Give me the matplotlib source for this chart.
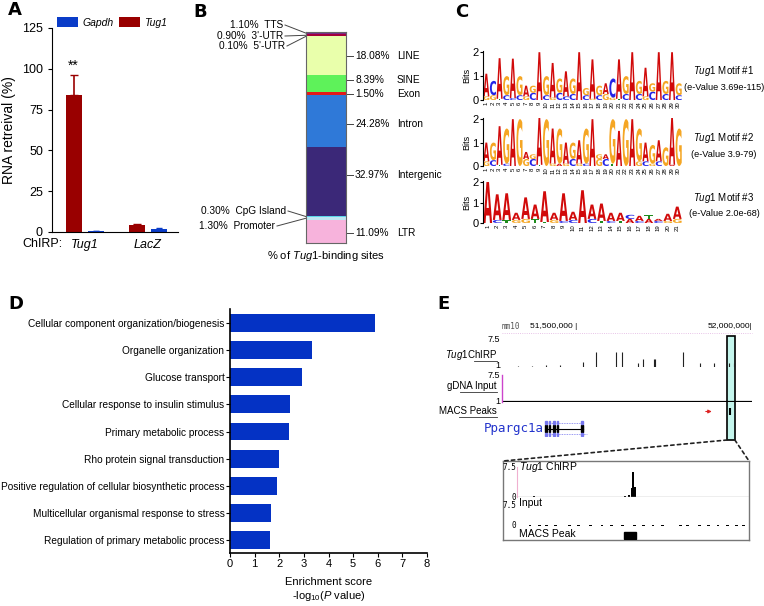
import numpy as np
import matplotlib
matplotlib.use("Agg")
import matplotlib.pyplot as plt
from matplotlib.textpath import TextPath
from matplotlib.patches import PathPatch, Rectangle, ConnectionPatch
from matplotlib.font_manager import FontProperties
from matplotlib import transforms
from matplotlib.lines import Line2D

plt.rcParams['font.family'] = ['Liberation Sans', 'DejaVu Sans']
plt.rcParams['mathtext.fontset'] = 'custom'
plt.rcParams['mathtext.it'] = 'Liberation Sans:italic'
plt.rcParams['mathtext.rm'] = 'Liberation Sans'
narrow = ['Liberation Sans Narrow', 'Liberation Sans', 'DejaVu Sans']
mono = ['DejaVu Sans Mono']

# ---------------- data ----------------
# A: ChIRP RNA retrieval
chirp_probes = ['Tug1', 'LacZ']
tug1_retrieval = [84.0, 4.5]
tug1_err = [12.5, 0.5]
gapdh_retrieval = [0.6, 2.0]
gapdh_err = [0.2, 0.4]

# B: genomic distribution of Tug1 binding sites (top -> bottom)
feature_names = ['TTS', "3'-UTR", "5'-UTR", 'LINE', 'SINE', 'Exon', 'Intron',
                 'Intergenic', 'CpG Island', 'Promoter', 'LTR']
feature_pct = [1.10, 0.90, 0.10, 18.08, 8.39, 1.50, 24.28, 32.97, 0.30, 1.30, 11.09]
feature_colors = ['#7b2a8e', '#a3003c', '#ffe27a', '#e9ffab', '#5ef25a', '#e31a1a',
                  '#2f79d8', '#3b2878', '#5ad6ea', '#bfe6f2', '#f7b3dc']

# C: motifs (top letter / lower letter with heights in bits)
motif1_top = 'ACAGAGAGAGAGAGAGAGACAGAGAGAGAG'
motif1_top_bits = [0.95, 0.6, 1.7, 0.8, 1.65, 0.8, 0.45, 0.3, 2.0, 0.8, 1.45, 0.6, 1.05, 0.65,
                   2.0, 0.3, 1.65, 0.4, 0.45, 0.8, 1.65, 0.75, 2.0, 0.55, 1.2, 0.35, 2.0, 0.55, 2.0, 0.5]
motif1_low = 'GGTCCCGCACGCCCACGCGGTCACGCACAC'
motif1_low_bits = [0.15, 0.2, 0.05, 0.2, 0.08, 0.2, 0.15, 0.3, 0, 0.2, 0.1, 0.3, 0.15, 0.25,
                   0, 0.2, 0.05, 0.2, 0.25, 0.1, 0.05, 0.25, 0, 0.25, 0.15, 0.35, 0, 0.25, 0, 0.2]
motif2_top = 'AGAGAGAGAGAGAGAGAGAGAGAGAGAGAG'
motif2_top_bits = [0.8, 0.75, 1.65, 1.5, 2.0, 2.0, 0.3, 0.2, 2.0, 2.0, 1.5, 1.5, 0.9, 0.7,
                   1.0, 1.5, 2.0, 0.2, 0.2, 1.9, 1.5, 2.0, 2.0, 1.4, 0.8, 0.8, 0.9, 0.8, 2.0, 1.6]
motif2_low = 'GCTCAAGCTAGAGCGCAGCTAAAGCGCAAA'
motif2_low_bits = [0.2, 0.25, 0.05, 0.1, 0, 0, 0.3, 0.3, 0.05, 0, 0.1, 0.1, 0.1, 0.3,
                   0.1, 0.1, 0, 0.3, 0.3, 0.1, 0, 0, 0, 0.2, 0.2, 0.1, 0.2, 0, 0.05, 0]
motif3_top = 'AAAAAAAAAAAAAAACATAAA'
motif3_top_bits = [2.0, 1.25, 1.3, 0.35, 1.05, 0.7, 1.5, 0.35, 1.35, 0.4, 1.6, 0.7, 0.85, 0.4,
                   0.4, 0.2, 0.25, 0.2, 0.1, 0.35, 0.6]
motif3_low = 'ACTGGTTGCCACTCTACACGG'
motif3_low_bits = [0, 0.15, 0.15, 0.15, 0.2, 0.2, 0.05, 0.15, 0.1, 0.15, 0, 0.2, 0.1, 0.1,
                   0.1, 0.2, 0.1, 0.2, 0.1, 0.1, 0.2]
motif_names = ['#1', '#2', '#3']
motif_evalues = ['3.69e-115', '3.9-79', '2.0e-68']

# D: GO enrichment
go_terms = ['Cellular component organization/biogenesis', 'Organelle organization',
            'Glucose transport', 'Cellular response to insulin stimulus',
            'Primary metabolic process', 'Rho protein signal transduction',
            'Positive regulation of cellular biosynthetic process',
            'Multicellular organismal response to stress',
            'Regulation of primary metabolic process']
go_scores = [5.9, 3.32, 2.91, 2.44, 2.39, 1.99, 1.9, 1.65, 1.62]

# E: genome browser (mm10, chr5)
view_start, view_end = 51_285_700, 52_000_000
chirp_pos = [51_330_000, 51_370_000, 51_410_000, 51_450_000, 51_517_000, 51_554_000,
             51_611_000, 51_629_000, 51_674_000, 51_689_000, 51_720_000, 51_723_000,
             51_803_000, 51_851_000, 51_891_000, 51_934_000, 51_949_000]
chirp_val = [1.3, 1.3, 1.4, 1.4, 2.2, 4.4, 4.4, 4.4, 2.0, 2.8, 2.8, 2.8, 4.4, 2.0, 2.0, 2.0, 2.0]
gene_start, gene_end = 51_409_000, 51_517_000
gene_alt_end = 51_529_000
gene_exons = [(51_409_000, 51_414_000), (51_419_000, 51_423_000), (51_430_000, 51_438_000),
              (51_443_000, 51_447_000), (51_512_000, 51_517_000)]
highlight = (51_929_000, 51_951_000)
macs_arrow = (51_860_000, 51_893_000)
macs_mark = 51_936_000

# E inset (position in % of zoomed window)
inset_chirp_pos = [7, 46, 48, 49, 49.5, 50.5]
inset_chirp_val = [0.3, 0.3, 0.5, 2.2, 6.3, 2.4]
inset_input_pos = [5, 9, 12, 16, 22, 26, 31, 36, 40, 45, 50, 54, 58, 62, 70, 73, 78, 82, 86, 90, 94, 97]
inset_input_val = [0.2, 0.3, 0.2, 0.3, 0.2, 0.2, 0.3, 0.2, 0.2, 0.2, 0.3, 0.2, 0.2, 0.2,
                   0.3, 0.2, 0.3, 0.3, 0.2, 0.3, 0.3, 0.2]
inset_peak = (46, 51.5)

# ---------------- figure ----------------
W, H = 764, 606
fig = plt.figure(figsize=(W / 100, H / 100), dpi=100)


def px_axes(x0, y0, x1, y1):
    return fig.add_axes([x0 / W, 1 - y1 / H, (x1 - x0) / W, (y1 - y0) / H])


def ftext(x, y, s, **kw):
    return fig.text(x / W, 1 - y / H, s, **kw)


for lab, (x, y) in zip('ABCDE', [(8, 10), (193, 12), (455, 12), (8, 304), (437, 304)]):
    ftext(x, y, lab, fontsize=13, fontweight='bold', family='DejaVu Sans', va='center')

# ---- A ----
red = '#990000'
blue = '#0a3cc8'
ax = px_axes(52, 28, 178, 232)
xx = np.arange(len(chirp_probes))
ax.bar(xx - 0.18, tug1_retrieval, 0.25, color=red, label='Tug1', zorder=2)
ax.errorbar(xx - 0.18, tug1_retrieval, yerr=[np.zeros(2), tug1_err], fmt='none',
            ecolor=red, elinewidth=1.2, capsize=3, zorder=1)
ax.bar(xx + 0.18, gapdh_retrieval, 0.25, color=blue, label='Gapdh', zorder=2)
ax.errorbar(xx + 0.18, gapdh_retrieval, yerr=[np.zeros(2), gapdh_err], fmt='none',
            ecolor=blue, elinewidth=1.0, capsize=2, zorder=1)
ax.text(xx[0] - 0.18, tug1_retrieval[0] + tug1_err[0] + 1, '**', ha='center', va='bottom', fontsize=10)
ax.set_xlim(-0.524, 1.476)
ax.set_ylim(0, 125)
ax.set_yticks(np.arange(0, 126, 25))
ax.tick_params(axis='y', labelsize=9, length=3)
ax.set_xticks(xx)
ax.set_xticklabels(chirp_probes, style='italic', fontsize=9)
ax.tick_params(axis='x', length=0, pad=5)
for s in ['top', 'right']:
    ax.spines[s].set_visible(False)
ax.set_ylabel('RNA retreival (%)', fontsize=10, labelpad=4)
h, l = ax.get_legend_handles_labels()
ax.legend(h[::-1], l[::-1], loc='upper left', bbox_to_anchor=(0.04, 1.055), ncol=2, frameon=False,
          prop={'style': 'italic', 'size': 7.5}, handlelength=2.0, handleheight=1.2,
          columnspacing=0.6, handletextpad=0.4, borderpad=0, borderaxespad=0)
ftext(22, 244, 'ChIRP:', fontsize=9, va='center')

# ---- B ----
axb = px_axes(306, 32, 346, 243)
cum = np.concatenate([[0], np.cumsum(feature_pct)])
for i, (p, c) in enumerate(zip(feature_pct, feature_colors)):
    axb.bar(0, p, bottom=cum[i], width=1, color=c, linewidth=0)
axb.set_xlim(-0.5, 0.5)
axb.set_ylim(cum[-1], 0)
axb.set_xticks([])
axb.set_yticks([])
for s in axb.spines.values():
    s.set_color('#666666')
    s.set_linewidth(0.8)


def bx(px):
    return (px - 326) / 40.0


def by(py):
    return (py - 32) / 211.0 * cum[-1]


right_labels = {'LINE': 0, 'SINE': -1.8, 'Exon': 0, 'Intron': 1.5, 'Intergenic': -3, 'LTR': 0.8}
for name, nudge in right_labels.items():
    i = feature_names.index(name)
    yc = (cum[i] + cum[i + 1]) / 2 + nudge
    axb.plot([0.5, bx(353)], [yc, yc], color='#444444', lw=0.7, clip_on=False)
    axb.text(bx(355), yc, f'{feature_pct[i]:.2f}%', fontsize=7.3, va='center', family=narrow)
    axb.text(bx(397), yc, name, fontsize=7.3, va='center', family=narrow)

left_labels = {'TTS': 25, "3'-UTR": 36, "5'-UTR": 46, 'CpG Island': 211, 'Promoter': 226}
left_ends = {'TTS': 283, "3'-UTR": 283, "5'-UTR": 285, 'CpG Island': 286, 'Promoter': 275}
for name, ty in left_labels.items():
    i = feature_names.index(name)
    yc = (cum[i] + cum[i + 1]) / 2
    x_end = left_ends[name]
    axb.plot([bx(x_end + 2), -0.5], [by(ty), yc], color='#444444', lw=0.7, clip_on=False)
    axb.text(bx(x_end), by(ty), f'{feature_pct[i]:.2f}%  {name}', fontsize=7.3, va='center',
             ha='right', family=narrow)
ftext(326, 256, r'% of $\mathit{Tug1}$-binding sites', fontsize=8, ha='center', va='center', family=narrow)

# ---- C ----
logo_font = FontProperties(family='DejaVu Sans', weight='bold')
letter_colors = {'A': '#d10a0a', 'C': '#2424e6', 'G': '#f5a623', 'T': '#1e8c1e'}


def draw_letter(ax, ch, x, y, w, hgt):
    if hgt <= 0:
        return
    tp = TextPath((0, 0), ch, size=1, prop=logo_font)
    bb = tp.get_extents()
    tr = (transforms.Affine2D().translate(-bb.x0, -bb.y0)
          .scale(w / bb.width, hgt / bb.height).translate(x - w / 2, y))
    ax.add_patch(PathPatch(tr.transform_path(tp), facecolor=letter_colors[ch], lw=0))


motifs = [(motif1_top, motif1_top_bits, motif1_low, motif1_low_bits),
          (motif2_top, motif2_top_bits, motif2_low, motif2_low_bits),
          (motif3_top, motif3_top_bits, motif3_low, motif3_low_bits)]
logo_rows = [(51, 100), (118, 166), (181, 223)]
for k, ((top, tb, low, lb), (y0, y1)) in enumerate(zip(motifs, logo_rows)):
    axl = px_axes(483, y0, 682, y1)
    n = len(top)
    for i in range(n):
        draw_letter(axl, low[i], i + 1, 0, 0.92, lb[i])
        draw_letter(axl, top[i], i + 1, lb[i], 0.92, tb[i])
    axl.set_xlim(0.5, n + 0.5)
    axl.set_ylim(0, 2.05)
    axl.set_yticks([0, 1, 2])
    axl.tick_params(axis='y', labelsize=8, length=2, pad=1)
    axl.set_xticks(np.arange(1, n + 1))
    axl.set_xticklabels([str(i) for i in range(1, n + 1)], rotation=90, fontsize=4.3)
    axl.tick_params(axis='x', length=0, pad=1)
    for s in ['top', 'right', 'bottom']:
        axl.spines[s].set_visible(False)
    axl.set_ylabel('Bits', fontsize=6.5, labelpad=1)
    ym = (y0 + y1) / 2
    ftext(724, ym - 4, r'$\mathit{Tug1}$ Motif ' + motif_names[k], fontsize=7, ha='center',
          va='center', family=narrow)
    ftext(724, ym + 12, f'(e-Value {motif_evalues[k]})', fontsize=6.6, ha='center', va='center',
          family=narrow)

# ---- D ----
axd = px_axes(230, 309, 427, 553)
yy = np.arange(len(go_terms))
axd.barh(yy, go_scores, height=0.66, color='#0432c4')
axd.set_ylim(len(go_terms) - 0.52, -0.52)
axd.set_xlim(0, 8)
axd.set_xticks(np.arange(0, 9))
axd.set_yticks(yy)
axd.set_yticklabels(go_terms, fontsize=7.3)
axd.tick_params(axis='y', length=3, pad=1)
axd.tick_params(axis='x', length=3, labelsize=8, pad=1)
for s in ['top', 'right']:
    axd.spines[s].set_visible(False)
for s in ['left', 'bottom']:
    axd.spines[s].set_linewidth(1.2)
axd.set_xlabel('Enrichment score\n-log$_{10}$($\\mathit{P}$ value)', fontsize=8, labelpad=6)

# ---- E ----
ax1 = px_axes(502, 339, 752, 367)
ax2 = px_axes(502, 375, 752, 402)
ax3 = px_axes(502, 405, 752, 418)
ax4 = px_axes(502, 420, 752, 437)
for a in (ax1, ax2, ax3, ax4):
    a.set_xlim(view_start, view_end)
    a.set_facecolor('none')
    a.set_xticks([])
    a.set_yticks([])
    for s in a.spines.values():
        s.set_visible(False)
ax1.set_ylim(1, 7.5)
ax1.vlines(chirp_pos, 1, chirp_val, color='#222222', lw=0.8)
ax2.set_ylim(1, 7.5)
ax2.plot([view_start, view_end], [1.1, 1.1], color='black', lw=1.6)
ax2.spines['left'].set_visible(True)
ax2.spines['left'].set_color('#cc44cc')
ax2.spines['left'].set_linewidth(1.0)

ruler_y = transforms.blended_transform_factory(ax1.transData, ax1.transAxes)
ax1.text(view_start, 1.43, 'mm10', fontsize=5.5, family=mono, color='#555555', va='center',
         transform=ruler_y)
ax1.text(51_500_000, 1.43, '51,500,000 |', fontsize=6, ha='right', va='center',
         family=narrow, transform=ruler_y)
ax1.text(view_end, 1.43, '52,000,000|', fontsize=6, ha='right', va='center',
         family=narrow, transform=ruler_y)
ax1.plot([view_start, view_end], [1.22, 1.22], color='#e0b0e0', lw=0.6, ls=':',
         transform=ruler_y, clip_on=False)

for txt, ty in [('7.5', 339), ('1', 365), ('7.5', 375), ('1', 401)]:
    ftext(500, ty, txt, fontsize=6.5, ha='right', va='center')
ftext(497, 355, r'$\mathit{Tug1}$ChIRP', fontsize=7, ha='right', va='center')
ftext(497, 386, 'gDNA Input', fontsize=7, ha='right', va='center')
ftext(497, 411, 'MACS Peaks', fontsize=7, ha='right', va='center')
for x0, x1, y in [(474, 497, 361), (460, 497, 392), (459, 497, 417)]:
    fig.add_artist(Line2D([x0 / W, x1 / W], [1 - y / H, 1 - y / H], color='#333333', lw=0.6))

ax3.set_ylim(0, 1)
ax3.annotate('', xy=(macs_arrow[1], 0.5), xytext=(macs_arrow[0], 0.5),
             arrowprops=dict(arrowstyle='-|>', color='#dd2222', lw=0.8, mutation_scale=5))
ax3.vlines([macs_mark], 0.25, 0.75, color='black', lw=1.5)

ax4.set_ylim(0, 1)
ax4.plot([gene_start, gene_end], [0.5, 0.5], color='black', lw=0.8)
ax4.plot([gene_start, gene_end], [0.85, 0.85], color='#7777ee', lw=0.6, ls=(0, (1, 1)))
ax4.plot([gene_start, gene_alt_end], [0.15, 0.15], color='#7777ee', lw=0.6, ls=(0, (1, 1)))
for e0, e1 in gene_exons:
    ax4.add_patch(Rectangle((e0, 0.3), e1 - e0, 0.4, color='black'))
    ax4.add_patch(Rectangle((e0, 0.75), e1 - e0, 0.2, color='#7777ee'))
    ax4.add_patch(Rectangle((e0, 0.05), e1 - e0, 0.2, color='#7777ee'))
ax4.vlines([gene_end], 0.3, 0.7, color='black', lw=0.8)
ax4.text(gene_start - 5000, 0.5, 'Ppargc1a', fontsize=9, family=mono, color='#2233cc',
         ha='right', va='center')

hl_tr = transforms.blended_transform_factory(ax1.transData, fig.transFigure)
fig.add_artist(Rectangle((highlight[0], 1 - 440 / H), highlight[1] - highlight[0], 104 / H,
                         transform=hl_tr, facecolor='#c4f5ec', edgecolor='black', lw=1.2,
                         zorder=-1))

# inset
axi = px_axes(503, 461, 749, 540)
axi.set_xticks([])
axi.set_yticks([])
for s in axi.spines.values():
    s.set_color('#777777')
    s.set_linewidth(1.0)
for xy_a, xy_b in [((highlight[0], 1 - 440 / H), (0, 1)), ((highlight[1], 1 - 440 / H), (1, 1))]:
    fig.add_artist(ConnectionPatch(xyA=xy_a, coordsA=hl_tr, xyB=xy_b, coordsB=axi.transAxes,
                                   color='#222222', lw=1.2, ls=(0, (2, 2))))

axi1 = px_axes(517, 467, 749, 497)
axi2 = px_axes(517, 506, 749, 526)
axi3 = px_axes(517, 530, 749, 540)
for a in (axi1, axi2, axi3):
    a.set_xlim(0, 100)
    a.set_facecolor('none')
    a.set_xticks([])
    a.set_yticks([])
    for s in a.spines.values():
        s.set_visible(False)
axi1.set_ylim(0, 7.5)
axi1.bar(inset_chirp_pos, inset_chirp_val, width=0.9, color='black', align='edge')
axi1.axhline(0, color='#aaaaaa', lw=1.0)
axi1.spines['left'].set_visible(True)
axi1.spines['left'].set_color('#f0b0d0')
axi2.set_ylim(0, 7.5)
axi2.bar(inset_input_pos, inset_input_val, width=1.2, color='black', align='edge')
axi2.axhline(0, color='#555555', lw=0.6)
axi3.set_ylim(0, 1)
axi3.add_patch(Rectangle((inset_peak[0], 0.15), inset_peak[1] - inset_peak[0], 0.7, color='black'))

for txt, ty in [('7.5', 467), ('0', 497), ('7.5', 506), ('0', 526)]:
    ftext(516, ty, txt, fontsize=5.5, ha='right', va='center', family=mono)
ftext(519, 467, r'$\mathit{Tug1}$ ChIRP', fontsize=7.5, va='center')
ftext(519, 503, 'Input', fontsize=7.5, va='center')
ftext(519, 534, 'MACS Peak', fontsize=7.5, va='center')

fig.savefig('out.png', dpi=100)
